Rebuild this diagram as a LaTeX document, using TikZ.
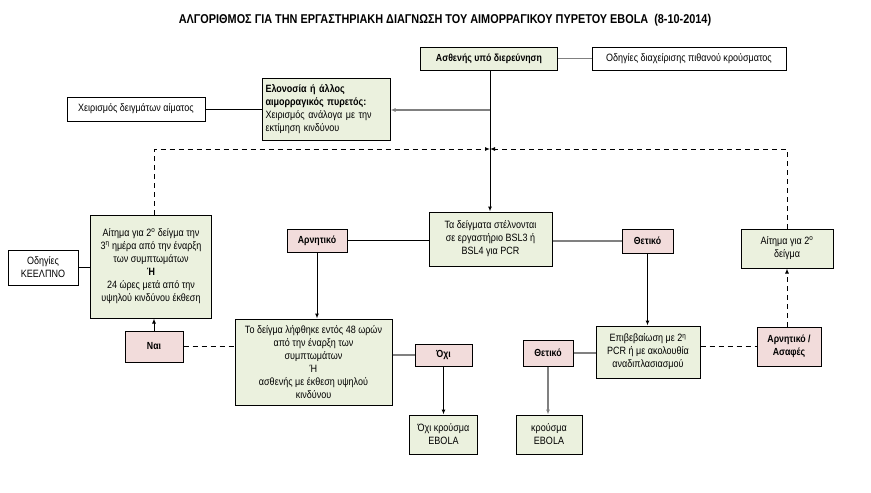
\documentclass[tikz,border=0pt]{standalone}
\usepackage{fontspec}
\setmainfont{Liberation Sans}[FakeStretch=0.85]
\usetikzlibrary{arrows.meta}
\definecolor{boxgreen}{HTML}{EBF1DE}
\definecolor{boxpink}{HTML}{F2DCDB}
\definecolor{linegray}{HTML}{808080}
\begin{document}
\begin{tikzpicture}[x=1pt,y=-1pt,
  base/.style={draw=black,line width=1pt,inner sep=1pt,align=center,font=\fontsize{10.6}{13}\selectfont},
  gbox/.style={base,fill=boxgreen},
  pbox/.style={base,fill=boxpink,font=\fontsize{10.3}{13}\selectfont\bfseries},
  wbox/.style={base,fill=white},
  conn/.style={line width=1pt},
  gconn/.style={line width=1.2pt,draw=linegray},
  tip/.style={-{Latex[length=5pt,width=4pt]}},
  dconn/.style={line width=1pt,dash pattern=on 5pt off 4pt},
]
\useasboundingbox (0,0) rectangle (871,493);
\node[font=\fontsize{12.8}{14}\selectfont\bfseries] (title) at (445,20) {ΑΛΓΟΡΙΘΜΟΣ ΓΙΑ ΤΗΝ ΕΡΓΑΣΤΗΡΙΑΚΗ ΔΙΑΓΝΩΣΗ ΤΟΥ ΑΙΜΟΡΡΑΓΙΚΟΥ ΠΥΡΕΤΟΥ EBOLA\ \ (8-10-2014)};

\node[gbox,font=\fontsize{10.3}{13}\selectfont\bfseries,minimum width=137pt,minimum height=23pt] (asth) at (489,58.5) {Ασθενής υπό διερεύνηση};
\node[wbox,minimum width=194pt,minimum height=23pt] (odig) at (689,58.5) {Οδηγίες διαχείρισης πιθανού κρούσματος};
\node[gbox,align=left,text width=121pt,minimum width=128pt,minimum height=62pt] (elon) at (326,109) {\textbf{Ελονοσία ή άλλος}\\\textbf{αιμορραγικός πυρετός:}\\Χειρισμός ανάλογα με την\\εκτίμηση κινδύνου};
\node[wbox,minimum width=138pt,minimum height=24pt] (xeir) at (136,109) {Χειρισμός δειγμάτων αίματος};
\node[gbox,minimum width=123pt,minimum height=54pt] (bsl) at (490.5,239) {Τα δείγματα στέλνονται\\σε εργαστήριο BSL3 ή\\BSL4 για PCR};
\node[gbox,minimum width=121pt,minimum height=103pt] (aith1) at (151,266.5) {Αίτημα για 2\textsuperscript{ο} δείγμα την\\3\textsuperscript{η} ημέρα από την έναρξη\\των συμπτωμάτων\\\textbf{Ή}\\24 ώρες μετά από την\\υψηλού κινδύνου έκθεση};
\node[wbox,minimum width=70pt,minimum height=35pt] (keel) at (43,267.5) {Οδηγίες\\ΚΕΕΛΠΝΟ};
\node[pbox,minimum width=58pt,minimum height=31pt] (nai) at (154,346.5) {Ναι};
\node[pbox,minimum width=60pt,minimum height=23pt] (arn) at (317,240.5) {Αρνητικό};
\node[pbox,minimum width=51pt,minimum height=24pt] (thet1) at (647.5,241) {Θετικό};
\node[gbox,minimum width=92pt,minimum height=39pt] (aith2) at (787,248.5) {Αίτημα για 2\textsuperscript{ο}\\δείγμα};
\node[pbox,minimum width=64pt,minimum height=39pt] (asaf) at (789,346.5) {Αρνητικό /\\Ασαφές};
\node[gbox,minimum width=104pt,minimum height=52pt] (epib) at (648,352) {Επιβεβαίωση με 2\textsuperscript{η}\\PCR ή με ακολουθία\\αναδιπλασιασμού};
\node[pbox,minimum width=50pt,minimum height=26pt] (thet2) at (548,353) {Θετικό};
\node[gbox,minimum width=157pt,minimum height=86pt] (deig) at (313.5,362) {Το δείγμα λήφθηκε εντός 48 ωρών\\από την έναρξη των\\συμπτωμάτων\\Ή\\ασθενής με έκθεση υψηλού\\κινδύνου};
\node[pbox,minimum width=57pt,minimum height=22pt] (oxi) at (443.5,355) {Όχι};
\node[gbox,minimum width=68pt,minimum height=39pt] (oxi2) at (443.5,434.5) {Όχι κρούσμα\\EBOLA};
\node[gbox,minimum width=66pt,minimum height=39pt] (kro) at (549,434.5) {κρούσμα\\EBOLA};

\coordinate (split) at (490,110);
\coordinate (dL) at (154,149);
\coordinate (dR) at (787,149);
\coordinate (dM) at (490,149);

% solid connectors
\draw[gconn] (asth.east) -- (odig.west);
\draw[conn,tip] (asth.south -| split) -- (bsl.north -| split);
\draw[gconn,tip] (split) -- (elon.east |- split);
\draw[conn] (xeir.east) -- (elon.west |- xeir.east);
\draw[conn] (keel.east) -- (aith1.west |- keel.east);
\draw[conn] (arn.east) -- (bsl.west |- arn.east);
\draw[gconn] (bsl.east |- thet1.west) -- (thet1.west);
\draw[conn,tip] (arn.south) -- (arn.south |- deig.north);
\draw[conn,tip] (thet1.south) -- (thet1.south |- epib.north);
\draw[gconn] (thet2.east) -- (epib.west |- thet2.east);
\draw[gconn] (deig.east |- oxi.west) -- (oxi.west);
\draw[conn,tip] (oxi.south) -- (oxi2.north -| oxi.south);
\draw[gconn,tip] (thet2.south) -- (kro.north -| thet2.south);
\draw[conn,tip] (nai.north) -- (aith1.south -| nai.north);

% dashed connectors
\draw[dconn,tip] (aith1.north -| dL) -- (dL) -- (dM);
\draw[dconn,tip] (aith2.north -| dR) -- (dR) -- (dM);
\draw[dconn,tip] (asaf.north -| dR) -- (aith2.south -| dR);
\draw[dconn] (nai.east) -- (deig.west |- nai.east);
\draw[dconn] (epib.east |- asaf.west) -- (asaf.west);
\end{tikzpicture}
\end{document}
